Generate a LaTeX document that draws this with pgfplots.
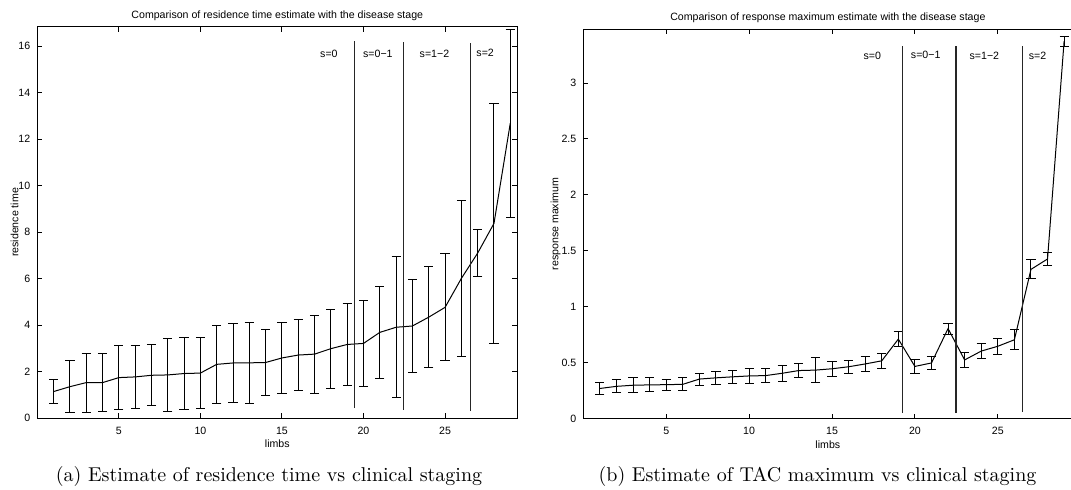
\documentclass[border=0pt]{standalone}
\usepackage{fontspec}
\usepackage{pgfplots}
\usepackage{pgfplotstable}
\pgfplotsset{compat=1.18}
\newfontfamily\plotfont{Liberation Sans}

% limb index, estimate, half-width of the error bar
\pgfplotstableread{
x y e
1 1.15 0.53
2 1.36 1.12
3 1.535 1.265
4 1.535 1.235
5 1.75 1.36
6 1.78 1.36
7 1.85 1.32
8 1.865 1.565
9 1.925 1.535
10 1.945 1.525
11 2.32 1.67
12 2.38 1.71
13 2.385 1.755
14 2.40 1.40
15 2.595 1.515
16 2.72 1.52
17 2.76 1.68
18 2.995 1.705
19 3.175 1.775
20 3.22 1.86
21 3.695 1.965
22 3.915 3.025
23 3.97 2.02
24 4.35 2.17
25 4.77 2.30
26 6.015 3.365
27 7.105 0.995
28 8.38 5.15
29 12.69 4.04
}\residence

\pgfplotstableread{
x y e
1 0.271 0.057
2 0.29 0.059
3 0.30 0.066
4 0.303 0.063
5 0.305 0.049
6 0.308 0.058
7 0.355 0.054
8 0.366 0.057
9 0.375 0.057
10 0.383 0.064
11 0.386 0.064
12 0.407 0.073
13 0.431 0.063
14 0.435 0.113
15 0.447 0.069
16 0.465 0.060
17 0.49 0.069
18 0.518 0.069
19 0.712 0.066
20 0.468 0.066
21 0.499 0.061
22 0.806 0.049
23 0.526 0.070
24 0.605 0.069
25 0.648 0.070
26 0.706 0.089
27 1.335 0.084
28 1.428 0.058
29 3.375 0.045
}\respmax

\pgfplotsset{
  stagefig/.style={
    scale only axis,
    axis line style={line width=0.5pt},
    every tick/.style={black, line width=0.5pt},
    major tick length=2.5pt,
    tick align=inside,
    font=\plotfont\fontsize{5.3}{6.4}\selectfont,
    /pgf/number format/assume math mode=true,
    xmin=0, ymin=0,
    xtick={5,10,15,20,25},
    every axis title/.style={at={(0.5,1)}, anchor=base, yshift=4.3pt},
    every axis x label/.style={at={(axis description cs:0.5,0)}, anchor=base, yshift=-14.6pt},
    xticklabel style={yshift=-0.7pt},
    clip=false,
  },
  meanline/.style={
    black, line width=0.5pt, mark=none,
    error bars/.cd, y dir=both, y explicit,
    error mark=|,
    error mark options={black, line width=0.5pt, mark size=2.3pt},
    error bar style={black, line width=0.5pt},
  },
  stageline/.style={black!85, line width=0.55pt, mark=none},
}

\begin{document}
\begin{tikzpicture}
\useasboundingbox (0,0) rectangle (535.5pt,244.5pt);

\begin{axis}[stagefig,
  at={(18.65pt,35.35pt)}, anchor=south west,
  width=240pt, height=195.8pt,
  xmax=29.43, ymax=16.84,
  ytick={0,2,4,6,8,10,12,14,16},
  title={Comparison of residence time estimate with the disease stage},
  xlabel={limbs},
  ylabel={residence time},
  every axis y label/.style={at={(axis description cs:-0.0396,0.5)}, rotate=90, anchor=base},
]
\addplot[meanline] table[x=x, y=y, y error=e]{\residence};
\addplot[stageline] coordinates {(19.47,0.44) (19.47,16.23)};
\addplot[stageline] coordinates {(22.45,0.36) (22.45,16.19)};
\addplot[stageline] coordinates {(26.56,0.31) (26.56,16.15)};
\node[anchor=base] at (axis cs:17.88,15.5) {s=0};
\node[anchor=base] at (axis cs:20.88,15.5) {s=0−1};
\node[anchor=base] at (axis cs:24.35,15.5) {s=1−2};
\node[anchor=base] at (axis cs:27.46,15.55) {s=2};
\end{axis}

\begin{axis}[stagefig,
  at={(291.65pt,35.1pt)}, anchor=south west,
  width=244.55pt, height=194.75pt,
  xmax=29.5, ymax=3.48,
  ytick={0,0.5,1,1.5,2,2.5,3},
  ytick pos=left,
  title={Comparison of response maximum estimate with the disease stage},
  xlabel={limbs},
  ylabel={response maximum},
  every axis y label/.style={at={(axis description cs:-0.0511,0.5)}, rotate=90, anchor=base},
]
\addplot[meanline] table[x=x, y=y, y error=e]{\respmax};
\addplot[stageline] coordinates {(19.24,0.05) (19.24,3.33)};
\addplot[stageline] coordinates {(22.48,0.05) (22.48,3.33)};
\addplot[stageline] coordinates {(26.48,0.06) (26.48,3.33)};
\node[anchor=base] at (axis cs:17.43,3.208) {s=0};
\node[anchor=base] at (axis cs:20.65,3.223) {s=0−1};
\node[anchor=base] at (axis cs:24.19,3.208) {s=1−2};
\node[anchor=base] at (axis cs:27.4,3.208) {s=2};
\end{axis}

\node[anchor=base] at (134.5pt,3.7pt) {(a)\ Estimate of residence time vs clinical staging};
\node[anchor=base] at (408.75pt,3.7pt) {(b)\ Estimate of TAC maximum vs clinical staging};
\end{tikzpicture}
\end{document}
